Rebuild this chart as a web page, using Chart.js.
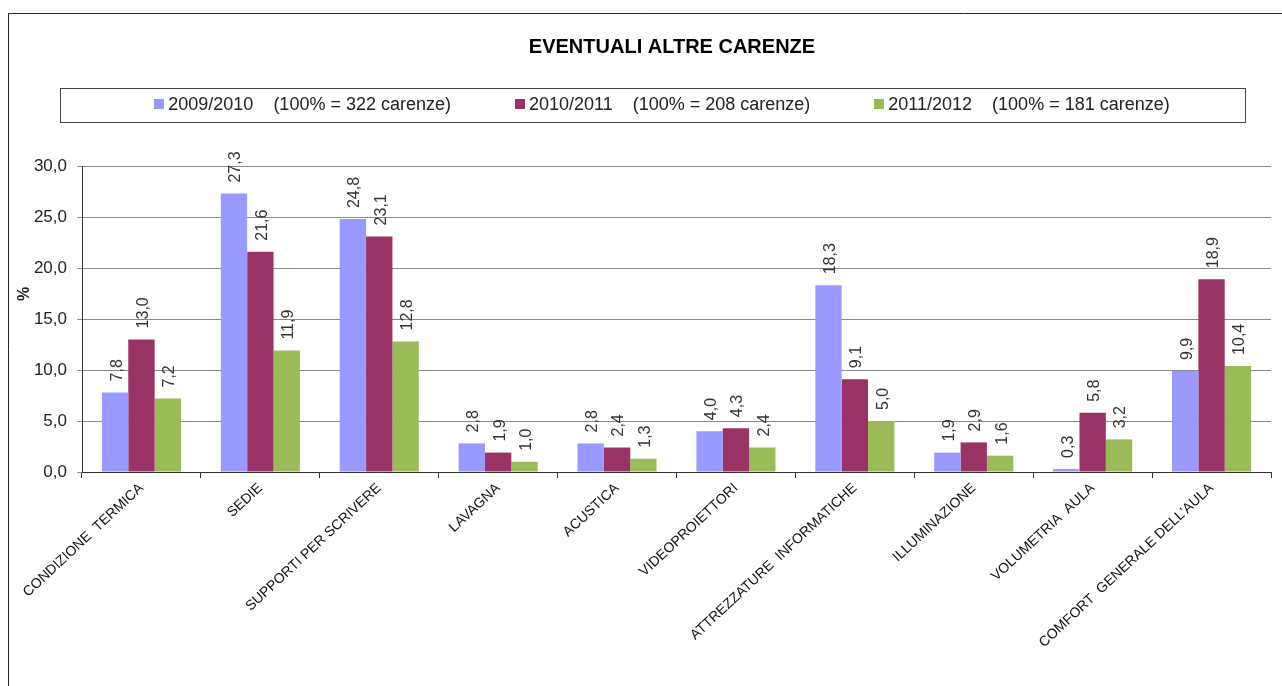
<!DOCTYPE html>
<html>
<head>
<meta charset="utf-8">
<script src="https://cdn.jsdelivr.net/npm/chart.js@4.4.1/dist/chart.umd.min.js"></script>
<style>
  html, body { margin: 0; padding: 0; background: #fff; }
  #wrap { width: 1282px; height: 686px; position: relative; }
</style>
</head>
<body>
<div id="wrap"><canvas id="chart"></canvas></div>
<script>
// dati del grafico
const chartTitle = 'EVENTUALI ALTRE CARENZE';
const categories = [
    'CONDIZIONE  TERMICA', 'SEDIE', 'SUPPORTI PER SCRIVERE', 'LAVAGNA', 'ACUSTICA',
    'VIDEOPROIETTORI', 'ATTREZZATURE  INFORMATICHE', 'ILLUMINAZIONE', 'VOLUMETRIA  AULA',
    "COMFORT  GENERALE DELL'AULA"
];
const seriesLabels = [
    '2009/2010    (100% = 322 carenze)',
    '2010/2011    (100% = 208 carenze)',
    '2011/2012    (100% = 181 carenze)'
];
const values0910 = [7.8, 27.3, 24.8, 2.8, 2.8, 4.0, 18.3, 1.9, 0.3, 9.9];
const values1011 = [13.0, 21.6, 23.1, 1.9, 2.4, 4.3, 9.1, 2.9, 5.8, 18.9];
const values1112 = [7.2, 11.9, 12.8, 1.0, 1.3, 2.4, 5.0, 1.6, 3.2, 10.4];
const seriesColors = ['#9999ff', '#993366', '#9bbb59'];
const yMin = 0, yMax = 30, yStep = 5;

// formato con la virgola
function fmt(v) {
    return v.toFixed(1).replace('.', ',');
}

// cornice, titolo e legenda
const framePlugin = {
    id: 'frame',
    beforeDraw(chart) {
        const ctx = chart.ctx;
        ctx.save();
        ctx.fillStyle = '#fff';
        ctx.fillRect(0, 0, chart.width, chart.height);
        ctx.strokeStyle = '#222';
        ctx.lineWidth = 1;
        ctx.beginPath();
        ctx.moveTo(8.5, chart.height);
        ctx.lineTo(8.5, 13.5);
        ctx.lineTo(chart.width, 13.5);
        ctx.stroke();

        // titolo
        ctx.fillStyle = '#000';
        ctx.font = 'bold 20px "Liberation Sans", Arial, sans-serif';
        ctx.textAlign = 'center';
        ctx.textBaseline = 'middle';
        ctx.fillText(chartTitle, 672, 47);

        // legenda
        ctx.strokeStyle = '#444';
        ctx.strokeRect(60.5, 88.5, 1185, 34);
        ctx.font = '18px "Liberation Sans", Arial, sans-serif';
        ctx.textAlign = 'left';
        const box = 10, gapText = 4, gapItem = 64;
        const widths = seriesLabels.map(t => ctx.measureText(t).width);
        const total = widths.reduce((a, b) => a + b, 0) + seriesLabels.length * (box + gapText) + gapItem * (seriesLabels.length - 1);
        let x = 662 - total / 2;
        seriesLabels.forEach((t, i) => {
            ctx.fillStyle = seriesColors[i];
            ctx.fillRect(Math.round(x), 99, box, box);
            ctx.fillStyle = '#222';
            ctx.fillText(t, x + box + gapText, 105);
            x += box + gapText + widths[i] + gapItem;
        });

        // titolo asse y
        ctx.save();
        ctx.translate(25, 294);
        ctx.rotate(-Math.PI / 2);
        ctx.textAlign = 'center';
        ctx.font = 'bold 16px "Liberation Sans", Arial, sans-serif';
        ctx.fillStyle = '#222';
        ctx.fillText('%', 0, 0);
        ctx.restore();
        ctx.restore();
    }
};

// etichette dei valori, ruotate
const valueLabels = {
    id: 'valueLabels',
    afterDatasetsDraw(chart) {
        const ctx = chart.ctx;
        ctx.save();
        ctx.font = '16px "Liberation Sans", Arial, sans-serif';
        ctx.fillStyle = '#333';
        ctx.textAlign = 'left';
        ctx.textBaseline = 'middle';
        chart.data.datasets.forEach((ds, di) => {
            chart.getDatasetMeta(di).data.forEach((bar, i) => {
                ctx.save();
                ctx.translate(bar.x + 2, bar.y - 11);
                ctx.rotate(-Math.PI / 2);
                ctx.fillText(fmt(ds.data[i]), 0, 0);
                ctx.restore();
            });
        });
        ctx.restore();
    }
};

const ctx = document.getElementById('chart').getContext('2d');
const chart = new Chart(ctx, {
    type: 'bar',
    data: {
        labels: categories,
        datasets: [
            { label: seriesLabels[0], data: values0910, backgroundColor: seriesColors[0] },
            { label: seriesLabels[1], data: values1011, backgroundColor: seriesColors[1] },
            { label: seriesLabels[2], data: values1112, backgroundColor: seriesColors[2] }
        ]
    },
    options: {
        responsive: true,
        maintainAspectRatio: false,
        animation: false,
        layout: { padding: { top: 166, right: 11, left: 0, bottom: 0 } },
        datasets: { bar: { categoryPercentage: 0.665, barPercentage: 1.0 } },
        scales: {
            x: {
                afterFit: (scale) => { scale.height = 214; },
                grid: { display: true, drawOnChartArea: false, tickLength: 6, color: '#333' },
                border: { color: '#333' },
                ticks: {
                    autoSkip: false, maxRotation: 43, minRotation: 43, padding: 2,
                    color: '#111',
                    font: { family: '"Liberation Sans", Arial, sans-serif', size: 14 }
                }
            },
            y: {
                min: yMin, max: yMax,
                afterFit: (scale) => { scale.width = 82; },
                grid: { color: '#8a8a8a', tickLength: 5 },
                border: { color: '#333' },
                ticks: {
                    stepSize: yStep, padding: 10, color: '#222',
                    font: { family: '"Liberation Sans", Arial, sans-serif', size: 17 },
                    callback: (v) => fmt(v)
                }
            }
        },
        plugins: {
            legend: { display: false },
            title: { display: false },
            tooltip: { enabled: false }
        }
    },
    plugins: [framePlugin, valueLabels]
});
</script>
</body>
</html>
